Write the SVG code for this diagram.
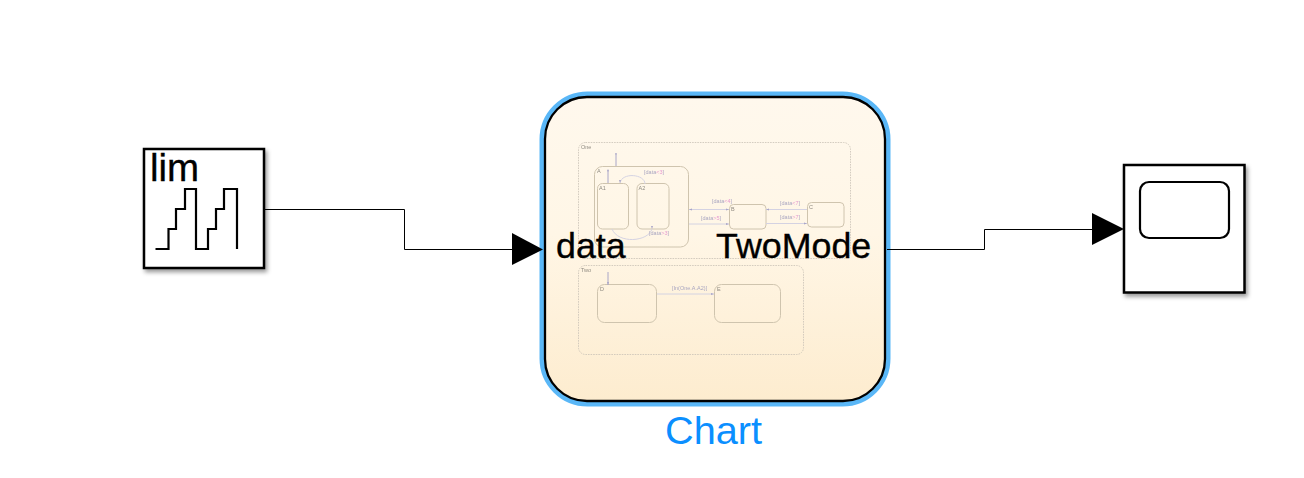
<svg xmlns="http://www.w3.org/2000/svg" width="1304" height="478" viewBox="0 0 1304 478">
<style>
text{font-family:"Liberation Sans",Arial,sans-serif}
.blk{fill:#fff;stroke:#000;stroke-width:2.5;filter:url(#sh)}
.ic{fill:none;stroke:#000;stroke-width:2.2}
.wire{fill:none;stroke:#000;stroke-width:1}
.big{font-size:35.800px;fill:#000;stroke:#000;stroke-width:.35}
.st{fill:none;stroke:#cfc4ae;stroke-width:1}
.sup{fill:none;stroke:#c9c2b6;stroke-width:.8;stroke-dasharray:1.6 1}
.tr{fill:none;stroke:#d4d2e2;stroke-width:1}
.trd{fill:none;stroke:#a9a6c8;stroke-width:1}
.ah{fill:#a9a6c8}
.n{font-size:5.500px;fill:#8f8a80}
.l{font-size:5.500px;fill:#a9a6c0}
.p{fill:#e79ad0}
</style>
<defs>
<linearGradient id="bg" x1="0" y1="0" x2="0" y2="1"><stop offset="0" stop-color="#fff8ed"/><stop offset=".45" stop-color="#fff6e6"/><stop offset="1" stop-color="#fdeccf"/></linearGradient>
<filter id="sh" x="-10%" y="-10%" width="125%" height="125%"><feDropShadow dx="2" dy="3" stdDeviation="2" flood-color="#000" flood-opacity=".4"/></filter>
<filter id="soft" x="-5%" y="-5%" width="110%" height="110%"><feGaussianBlur stdDeviation=".25"/></filter>
</defs>
<rect width="1304" height="478" fill="#fff"/>
<g id="lim">
<rect class="blk" x="144" y="149" width="120" height="119"/>
<path class="ic" d="M155.500 249H168.500V229H176V209H185V189H196V249H208V229H216V209H224V189H237V249"/>
<text x="150" y="181" font-size="38.500" stroke="#000" stroke-width=".35">lim</text>
</g>
<g id="chart">
<rect x="542.500" y="94.500" width="345" height="309" rx="45" fill="none" stroke="#5ab7f7" stroke-width="6"/>
<rect x="545" y="97" width="340" height="304" rx="42" fill="url(#bg)" stroke="#000" stroke-width="2.300"/>
<g id="mini" filter="url(#soft)">
<rect class="sup" x="578.500" y="142.500" width="272" height="116" rx="7"/>
<text class="n" x="581" y="149">One</text>
<rect class="st" x="594.500" y="166.500" width="94" height="80.500" rx="8"/>
<text class="n" x="597" y="173">A</text>
<rect class="st" x="597.500" y="183.500" width="31" height="45.500" rx="5"/>
<text class="n" x="599" y="190">A1</text>
<rect class="st" x="637" y="183.500" width="32" height="45.500" rx="5"/>
<text class="n" x="638.500" y="190">A2</text>
<rect class="st" x="729.500" y="204.500" width="36.500" height="24.500" rx="4"/>
<text class="n" x="731" y="210.500">B</text>
<rect class="st" x="807.500" y="202.500" width="36.500" height="24.500" rx="4"/>
<text class="n" x="809" y="208.500">C</text>
<path class="trd" d="M616 155V166M608 171V183"/>
<circle class="ah" cx="616" cy="154" r=".9"/><circle class="ah" cx="608" cy="170.500" r=".9"/>
<path class="tr" d="M645 184C645 174 622 172 620 183"/>
<path class="tr" d="M612 229C618 244 648 242 652 229"/>
<path class="tr" d="M689 209.500H729M689 224H729M766 209.500H807M766 223.500H807"/>
<path class="ah" d="M689 209.500l3-1v2zM729 224l-3-1v2zM729 209.500l-3-1v2zM766 209.500l3-1v2zM807 223.500l-3-1v2zM620 183l-1-3h2zM652 229l-1-3h2z"/>
<text class="l" x="644" y="174">[data<tspan class="p">&lt;3</tspan>]</text>
<text class="l" x="649" y="235">[data<tspan class="p">&gt;3</tspan>]</text>
<text class="l" x="712" y="203">[data<tspan class="p">&lt;4</tspan>]</text>
<text class="l" x="701" y="220">[data<tspan class="p">&gt;5</tspan>]</text>
<text class="l" x="780" y="205">[data<tspan class="p">&lt;7</tspan>]</text>
<text class="l" x="780" y="219">[data<tspan class="p">&gt;7</tspan>]</text>
<rect class="sup" x="578.500" y="265.500" width="225" height="89" rx="7"/>
<text class="n" x="581" y="272">Two</text>
<rect class="st" x="597.500" y="284.500" width="59" height="38" rx="7"/>
<text class="n" x="600" y="291">D</text>
<rect class="st" x="714.500" y="284.500" width="66" height="38" rx="7"/>
<text class="n" x="717" y="291">E</text>
<path class="trd" d="M608 272V285"/>
<path class="tr" d="M657 294H714"/>
<path class="ah" d="M714 294l-3-1v2zM608 285l-1-3h2z"/>
<text class="l" x="672" y="290">[In(One.A.A2)]</text>
</g>
<text class="big" x="556" y="258">data</text>
<text class="big" x="716" y="258">TwoMode</text>
<text x="665" y="444" font-size="39.700" fill="#0b8fff">Chart</text>
</g>
<g id="scope">
<rect class="blk" x="1124" y="165" width="120.500" height="127.500"/>
<rect class="ic" x="1140" y="182" width="89" height="56" rx="9"/>
</g>
<g id="connectors">
<path class="wire" d="M264 209.500H404.500V249.500H512"/>
<path d="M512 233L543 249.500L512 265Z"/>
<path class="wire" d="M887 249.500H984.500V229.500H1092"/>
<path d="M1092 213L1124 229L1092 245Z"/>
</g>
</svg>
